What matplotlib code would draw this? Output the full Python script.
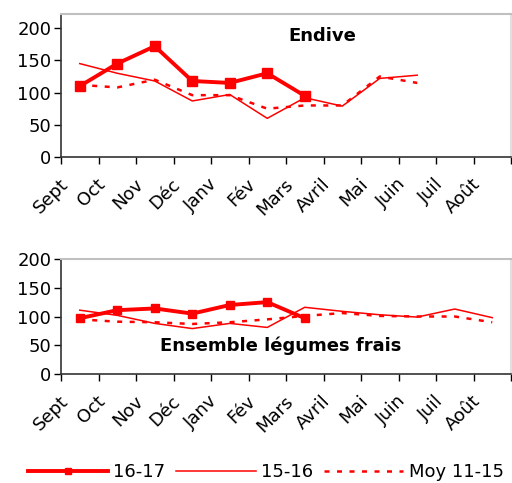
import matplotlib
matplotlib.use("Agg")
import matplotlib.pyplot as plt
from matplotlib.lines import Line2D
from matplotlib.transforms import ScaledTranslation
import numpy as np

plt.rcParams['font.family'] = ['DejaVu Sans']

months = ["Sept", "Oct", "Nov", "Déc", "Janv", "Fév", "Mars", "Avril", "Mai", "Juin", "Juil", "Août"]

endive_1617 = [110, 145, 172, 118, 115, 130, 95]
endive_1516 = [145, 130, 118, 87, 97, 60, 92, 79, 122, 127]
endive_moy = [112, 108, 120, 96, 96, 75, 80, 80, 125, 115]

leg_1617 = [97, 111, 114, 105, 120, 125, 97]
leg_1516 = [111, 102, 88, 79, 88, 81, 116, 109, 103, 99, 113, 98]
leg_moy = [95, 91, 90, 87, 90, 95, 101, 106, 101, 100, 100, 90]

series_names = ["16-17", "15-16", "Moy 11-15"]
yticks = [0, 50, 100, 150, 200]

RED = "#ff0000"
FS = 13
W, H = 512, 483
fig = plt.figure(figsize=(W / 100, H / 100), dpi=100)

def make_ax(rect, ymax):
    ax = fig.add_axes(rect)
    ax.set_xlim(-0.5, 11.5)
    ax.set_ylim(0, ymax)
    ax.set_yticks(yticks)
    ax.set_yticklabels([str(v) for v in yticks], fontsize=FS)
    ax.tick_params(axis='y', direction='out', length=5, width=1, pad=2, colors='black')
    ax.set_xticks(np.arange(-0.5, 12.0, 1.0))
    ax.set_xticklabels([])
    ax.tick_params(axis='x', direction='out', length=5, width=1)
    for s in ['left', 'bottom']:
        ax.spines[s].set_color('#333333')
        ax.spines[s].set_linewidth(1.2)
    ax.spines['top'].set_color('#c0c0c0')
    ax.spines['top'].set_linewidth(1.5)
    ax.spines['right'].set_color('#e0e0e0')
    ax.spines['right'].set_linewidth(1.5)
    off = ScaledTranslation(-0.21, -0.18, fig.dpi_scale_trans)
    tr = ax.get_xaxis_transform() + off
    for i, m in enumerate(months):
        ax.text(i, 0, m, transform=tr, rotation=45, ha='right', va='top',
                rotation_mode='anchor', fontsize=FS)
    return ax

def draw(ax, s1, s2, s3, ms):
    ax.plot(np.arange(len(s3)), s3, color=RED, lw=1.8, linestyle=(0, (2, 3)))
    ax.plot(np.arange(len(s2)), s2, color=RED, lw=1.1)
    ax.plot(np.arange(len(s1)), s1, color=RED, lw=2.8, marker='s', markersize=ms)

ax1 = make_ax([61 / W, 1 - 157 / H, 450 / W, 143 / H], 222)
draw(ax1, endive_1617, endive_1516, endive_moy, 7.5)
fig.text(322 / W, 1 - 36 / H, "Endive", fontsize=FS, fontweight='bold',
         ha='center', va='center')

ax2 = make_ax([61 / W, 1 - 374 / H, 450 / W, 115 / H], 200)
draw(ax2, leg_1617, leg_1516, leg_moy, 5.5)
fig.text(281 / W, 1 - 346 / H, "Ensemble légumes frais", fontsize=FS,
         fontweight='bold', ha='center', va='center')

handles = [
    Line2D([], [], color=RED, lw=2.8, marker='s', markersize=4.5),
    Line2D([], [], color=RED, lw=1.1),
    Line2D([], [], color=RED, lw=1.8, linestyle=(0, (2, 3))),
]
fig.legend(handles, series_names, loc='center', bbox_to_anchor=(266 / W, 1 - 472 / H),
           ncol=3, frameon=False, fontsize=FS, handlelength=4.4, handletextpad=0.3,
           columnspacing=0.6, borderpad=0, borderaxespad=0)

fig.savefig("out.png", dpi=100)
